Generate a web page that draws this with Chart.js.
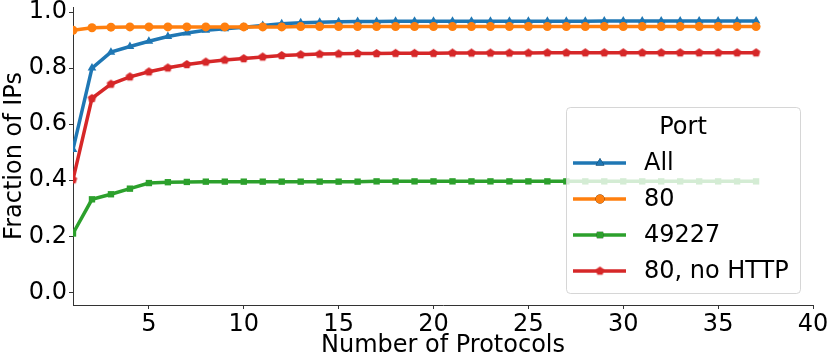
<!DOCTYPE html>
<html>
<head>
<meta charset="utf-8">
<script src="https://cdn.jsdelivr.net/npm/chart.js@4/dist/chart.umd.min.js"></script>
<style>
  html, body { margin: 0; padding: 0; background: #fff; }
  #wrap { width: 830px; height: 360px; }
</style>
</head>
<body>
<div id="wrap"><canvas id="protoChart" width="830" height="360"></canvas></div>
<script>
/* Fraction of IPs vs number of protocols, per port */

const protocols = [1, 2, 3, 4, 5, 6, 7, 8, 9, 10, 11, 12, 13, 14, 15, 16, 17, 18, 19,
  20, 21, 22, 23, 24, 25, 26, 27, 28, 29, 30, 31, 32, 33, 34, 35, 36, 37];

const allPorts = [0.51, 0.80, 0.857, 0.877, 0.896, 0.913, 0.925, 0.935, 0.940, 0.946,
  0.952, 0.958, 0.962, 0.964, 0.965, 0.966, 0.966, 0.967, 0.967, 0.967,
  0.967, 0.967, 0.967, 0.967, 0.967, 0.967, 0.967, 0.967, 0.968, 0.968,
  0.968, 0.968, 0.968, 0.968, 0.968, 0.968, 0.968];

const port80 = [0.935, 0.944, 0.946, 0.947, 0.947, 0.947, 0.947, 0.947, 0.947, 0.947,
  0.947, 0.947, 0.948, 0.948, 0.948, 0.948, 0.948, 0.948, 0.948, 0.948,
  0.948, 0.948, 0.948, 0.948, 0.948, 0.948, 0.948, 0.948, 0.948, 0.948,
  0.948, 0.948, 0.948, 0.948, 0.948, 0.948, 0.948];

const port49227 = [0.21, 0.332, 0.350, 0.370, 0.390, 0.393, 0.394, 0.395, 0.395, 0.395,
  0.395, 0.395, 0.395, 0.395, 0.395, 0.395, 0.396, 0.396, 0.396, 0.396,
  0.396, 0.396, 0.396, 0.396, 0.396, 0.396, 0.396, 0.396, 0.396, 0.396,
  0.396, 0.396, 0.396, 0.396, 0.396, 0.396, 0.396];

const port80NoHttp = [0.402, 0.692, 0.743, 0.769, 0.787, 0.801, 0.813, 0.822, 0.829, 0.834,
  0.840, 0.845, 0.848, 0.850, 0.851, 0.852, 0.852, 0.853, 0.853, 0.853,
  0.854, 0.854, 0.854, 0.854, 0.854, 0.855, 0.855, 0.855, 0.855, 0.855,
  0.855, 0.855, 0.855, 0.855, 0.855, 0.855, 0.855];

const xTicks = [5, 10, 15, 20, 25, 30, 35, 40];
const yTicks = [0.0, 0.2, 0.4, 0.6, 0.8, 1.0];

const FONT = '"DejaVu Sans", sans-serif';
const FONT_SIZE = 24;

// small pentagon marker (matplotlib 'p')
function makePentagon(color, r) {
  const c = document.createElement('canvas');
  const s = Math.ceil(r * 2 + 2);
  c.width = s; c.height = s;
  const g = c.getContext('2d');
  g.fillStyle = color;
  g.beginPath();
  for (let i = 0; i < 5; i++) {
    const a = -Math.PI / 2 + i * 2 * Math.PI / 5;
    const px = s / 2 + r * Math.cos(a);
    const py = s / 2 + r * Math.sin(a);
    if (i === 0) g.moveTo(px, py); else g.lineTo(px, py);
  }
  g.closePath();
  g.fill();
  return c;
}

const pentagon = makePentagon('#d62728', 4.5);

function series(label, values, color, style, radius, order) {
  return {
    label: label,
    data: protocols.map((x, i) => ({ x: x, y: values[i] })),
    borderColor: color,
    backgroundColor: color,
    borderWidth: 3.5,
    pointStyle: style,
    pointRadius: radius,
    pointBorderWidth: 0,
    pointBackgroundColor: color,
    tension: 0,
    clip: 0,
    order: order
  };
}

const datasets = [
  series('All', allPorts, '#1f77b4', 'triangle', 5, 4),
  series('80', port80, '#ff7f0e', 'circle', 4.5, 3),
  series('49227', port49227, '#2ca02c', 'rect', 4.5, 2),
  series('80, no HTTP', port80NoHttp, '#d62728', pentagon, 4.5, 1)
];

// legend drawn inside the plot, like matplotlib's loc='lower right'
const innerLegend = {
  id: 'innerLegend',
  afterDraw(chart) {
    const ctx = chart.ctx;
    const x0 = 566, y0 = 107, w = 234, h = 186;
    ctx.save();
    ctx.fillStyle = 'rgba(255,255,255,0.8)';
    ctx.strokeStyle = 'rgba(204,204,204,0.8)';
    ctx.lineWidth = 1;
    ctx.beginPath();
    ctx.roundRect(x0 + 0.5, y0 + 0.5, w, h, 4);
    ctx.fill();
    ctx.stroke();

    ctx.fillStyle = '#000';
    ctx.font = FONT_SIZE + 'px ' + FONT;
    ctx.textBaseline = 'middle';
    ctx.textAlign = 'center';
    ctx.fillText('Port', 683, 128);

    ctx.textAlign = 'left';
    const rowY = [163, 199, 235, 271];
    chart.data.datasets.forEach((ds, i) => {
      const y = rowY[i];
      ctx.strokeStyle = ds.borderColor;
      ctx.lineWidth = 3.5;
      ctx.beginPath();
      ctx.moveTo(573, y);
      ctx.lineTo(626, y);
      ctx.stroke();
      Chart.helpers.drawPoint(ctx, {
        pointStyle: ds.pointStyle,
        radius: ds.pointRadius,
        rotation: 0,
        borderWidth: 0
      }, 600, y);
      ctx.fillStyle = ds.borderColor;
      ctx.fill();
      ctx.fillStyle = '#000';
      ctx.fillText(ds.label, 644, y + 1);
    });
    ctx.restore();
  }
};

const ctx = document.getElementById('protoChart').getContext('2d');

new Chart(ctx, {
  type: 'line',
  data: { datasets: datasets },
  options: {
    responsive: false,
    animation: false,
    layout: { padding: { top: 7, right: 17, left: 0, bottom: 0 } },
    plugins: {
      legend: { display: false },
      tooltip: { enabled: false }
    },
    scales: {
      x: {
        type: 'linear',
        min: 1,
        max: 40,
        afterBuildTicks: (scale) => { scale.ticks = xTicks.map(v => ({ value: v })); },
        afterFit: (scale) => {
          scale.height = 55;
          scale.paddingLeft = 0;
          scale.paddingRight = 0;
        },
        grid: { display: true, drawOnChartArea: false, drawTicks: true, tickLength: 4, color: '#333' },
        border: { display: true, color: '#333', width: 1 },
        ticks: {
          color: '#000',
          font: { family: FONT, size: FONT_SIZE },
          padding: 1,
          maxRotation: 0,
          autoSkip: false,
          callback: (v) => `${v}`
        },
        title: {
          display: true,
          text: 'Number of Protocols',
          color: '#000',
          font: { family: FONT, size: FONT_SIZE },
          padding: { top: 0, bottom: 0 }
        }
      },
      y: {
        type: 'linear',
        min: -0.045,
        max: 1.018,
        afterBuildTicks: (scale) => { scale.ticks = yTicks.map(v => ({ value: v })); },
        afterFit: (scale) => {
          scale.width = 73;
          // keep the 1.0 label from pushing the plot area down
          scale.paddingTop = 0;
          scale.paddingBottom = 0;
        },
        grid: { display: true, drawOnChartArea: false, drawTicks: true, tickLength: 4, color: '#333' },
        border: { display: true, color: '#333', width: 1 },
        ticks: {
          color: '#000',
          font: { family: FONT, size: FONT_SIZE },
          padding: 2,
          autoSkip: false,
          callback: (v) => v.toFixed(1)
        },
        title: {
          display: true,
          text: 'Fraction of IPs',
          color: '#000',
          font: { family: FONT, size: FONT_SIZE },
          padding: { top: 0, bottom: 0 }
        }
      }
    }
  },
  plugins: [innerLegend]
});
</script>
</body>
</html>
